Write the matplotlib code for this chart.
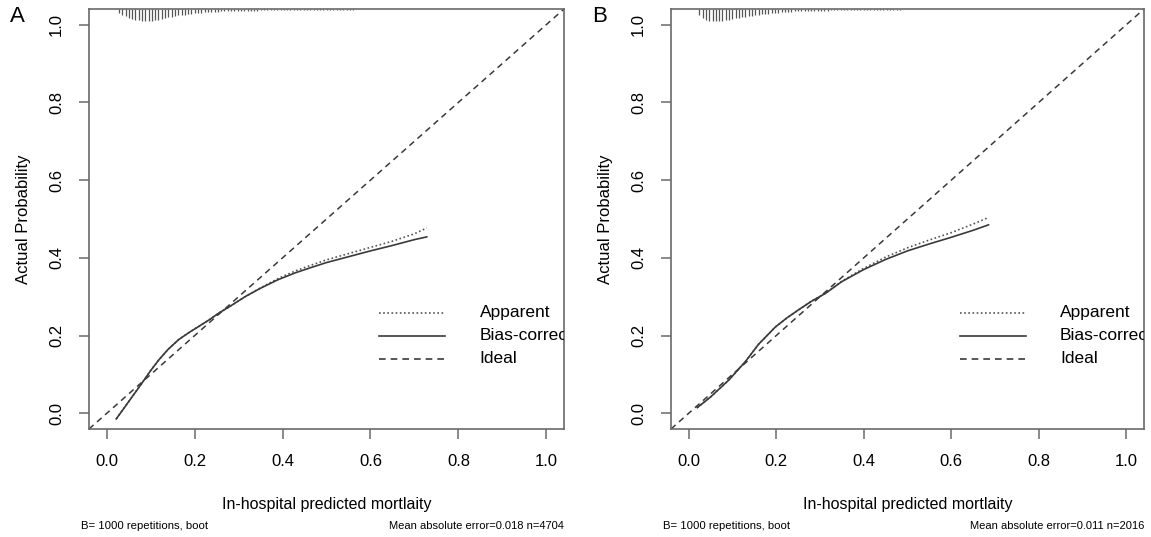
import matplotlib
matplotlib.use("Agg")
import matplotlib.pyplot as plt
import numpy as np

plt.rcParams['font.family'] = ['Liberation Sans', 'DejaVu Sans']

# ---------------- data ----------------
# Panel A
A_X = [0.022, 0.05, 0.081, 0.10, 0.119, 0.14, 0.164, 0.19, 0.21, 0.235, 0.255, 0.28,
       0.316, 0.35, 0.39, 0.43, 0.467, 0.5, 0.55, 0.6, 0.65, 0.7, 0.728]
A_BIAS = [-0.014, 0.03, 0.079, 0.11, 0.138, 0.165, 0.19, 0.21, 0.224, 0.242, 0.258, 0.275,
          0.301, 0.322, 0.344, 0.362, 0.376, 0.388, 0.403, 0.418, 0.432, 0.447, 0.454]
A_APP = [-0.014, 0.03, 0.079, 0.11, 0.138, 0.165, 0.19, 0.21, 0.224, 0.242, 0.258, 0.275,
         0.301, 0.323, 0.347, 0.367, 0.382, 0.395, 0.411, 0.427, 0.443, 0.462, 0.477]

# Panel B
B_X = [0.02, 0.05, 0.093, 0.131, 0.16, 0.198, 0.225, 0.252, 0.28, 0.313, 0.35, 0.4,
       0.45, 0.5, 0.55, 0.6, 0.65, 0.685]
B_BIAS = [0.015, 0.042, 0.087, 0.135, 0.178, 0.222, 0.246, 0.267, 0.288, 0.309, 0.339, 0.37,
          0.396, 0.418, 0.436, 0.453, 0.471, 0.485]
B_APP = [0.015, 0.042, 0.087, 0.135, 0.178, 0.222, 0.246, 0.267, 0.288, 0.309, 0.34, 0.373,
         0.402, 0.426, 0.446, 0.465, 0.487, 0.504]

IDEAL = [-0.04, 1.04]

# spike histogram of predicted values along the top (relative heights)
RUG_STEP = 0.0075
A_RUG_START = 0.028
A_RUG = [0.35, 0.5, 0.6, 0.7, 0.8, 0.85, 0.9, 0.95, 1.0, 1.0, 0.95, 0.9, 0.85, 0.8, 0.72,
         0.68, 0.62, 0.58, 0.52, 0.5, 0.46, 0.42, 0.4, 0.36, 0.34, 0.3, 0.28, 0.26, 0.24,
         0.22, 0.21, 0.2, 0.19, 0.18, 0.17, 0.16, 0.16, 0.15, 0.15, 0.14, 0.14, 0.13, 0.13,
         0.12, 0.12, 0.12, 0.11, 0.11, 0.11, 0.1, 0.1, 0.1, 0.1, 0.09, 0.09, 0.09, 0.09,
         0.08, 0.08, 0.08, 0.08, 0.07, 0.07, 0.07, 0.07, 0.06, 0.06, 0.06, 0.05, 0.05, 0.05,
         0.05, 0.04, 0.04, 0.04, 0.04, 0.04, 0.03, 0.03, 0.03]
B_RUG_START = 0.025
B_RUG = [0.45, 0.7, 0.85, 0.95, 1.0, 1.0, 0.98, 0.95, 0.9, 0.85, 0.8, 0.75, 0.7, 0.66,
         0.62, 0.58, 0.54, 0.5, 0.46, 0.43, 0.4, 0.37, 0.34, 0.31, 0.29, 0.27, 0.25, 0.23,
         0.21, 0.2, 0.19, 0.18, 0.17, 0.16, 0.15, 0.15, 0.14, 0.14, 0.13, 0.13, 0.12, 0.12,
         0.11, 0.11, 0.1, 0.1, 0.1, 0.09, 0.09, 0.09, 0.08, 0.08, 0.08, 0.07, 0.07, 0.07,
         0.06, 0.06, 0.06, 0.05, 0.05, 0.05, 0.04, 0.04, 0.04, 0.03, 0.03, 0.03]

TICKS = [0.0, 0.2, 0.4, 0.6, 0.8, 1.0]
TICK_LABELS = ["0.0", "0.2", "0.4", "0.6", "0.8", "1.0"]
LEGEND_LABELS = ["Apparent", "Bias-corrected", "Ideal"]

PANELS = [
    ("A", A_X, A_APP, A_BIAS, A_RUG_START, A_RUG, "Mean absolute error=0.018 n=4704"),
    ("B", B_X, B_APP, B_BIAS, B_RUG_START, B_RUG, "Mean absolute error=0.011 n=2016"),
]

# ---------------- plotting ----------------
W, H = 1151, 537
fig = plt.figure(figsize=(W / 100, H / 100), dpi=100)

frame = '#6a6a6a'
line_c = '#3a3a3a'
axes_px = [(89, 564), (671, 1144)]
top_px, bot_px = 9, 429

for (letter, xs, app, bias, rug_start, rug, mae_text), (l, r) in zip(PANELS, axes_px):
    ax = fig.add_axes([l / W, 1 - bot_px / H, (r - l) / W, (bot_px - top_px) / H])
    ax.set_xlim(-0.04, 1.04)
    ax.set_ylim(-0.04, 1.04)

    ax.plot(IDEAL, IDEAL, linestyle=(0, (4, 3)), color=line_c, linewidth=1.1)
    ax.plot(xs, app, linestyle=(0, (1, 1.5)), color='#555555', linewidth=1.2)
    ax.plot(xs, bias, linestyle='-', color=line_c, linewidth=1.2)

    # spikes at top
    rug_x = [rug_start + i * RUG_STEP for i in range(len(rug))]
    rug_len = 0.032
    ax.vlines(rug_x, 1.04 - np.array(rug) * rug_len, 1.04, color='#555555', linewidth=0.9)

    # legend drawn in data coords (text clipped by axes like the original)
    leg_y = [0.259, 0.2, 0.141]
    leg_styles = [(0, (1, 1.5)), '-', (0, (4, 3))]
    leg_cols = ['#555555', line_c, line_c]
    for y, ls, c, lab in zip(leg_y, leg_styles, leg_cols, LEGEND_LABELS):
        ax.plot([0.62, 0.77], [y, y], linestyle=ls, color=c, linewidth=1.2)
        ax.text(0.848, y, lab, fontsize=12.5, va='center', ha='left', clip_on=True)

    ax.set_xticks(TICKS)
    ax.set_xticklabels(TICK_LABELS)
    ax.set_yticks(TICKS)
    ax.set_yticklabels(TICK_LABELS, rotation=90, va='center')
    ax.tick_params(axis='both', direction='out', length=7, width=1.1, color=frame,
                   labelsize=12, pad=11)
    for s in ax.spines.values():
        s.set_color(frame)
        s.set_linewidth(1.2)

    ax.set_xlabel("In-hospital predicted mortlaity", fontsize=11.5, labelpad=20)
    ax.set_ylabel("Actual Probability", fontsize=12, labelpad=13)

    fig.text((l - 8) / W, 1 - 526 / H, "B= 1000 repetitions, boot", fontsize=8.2,
             ha='left', va='center')
    fig.text(r / W, 1 - 526 / H, mae_text, fontsize=8, ha='right', va='center')
    fig.text((l - 79) / W, 1 - 17 / H, letter, fontsize=16, ha='left', va='center')

fig.savefig("out.png", dpi=100)
